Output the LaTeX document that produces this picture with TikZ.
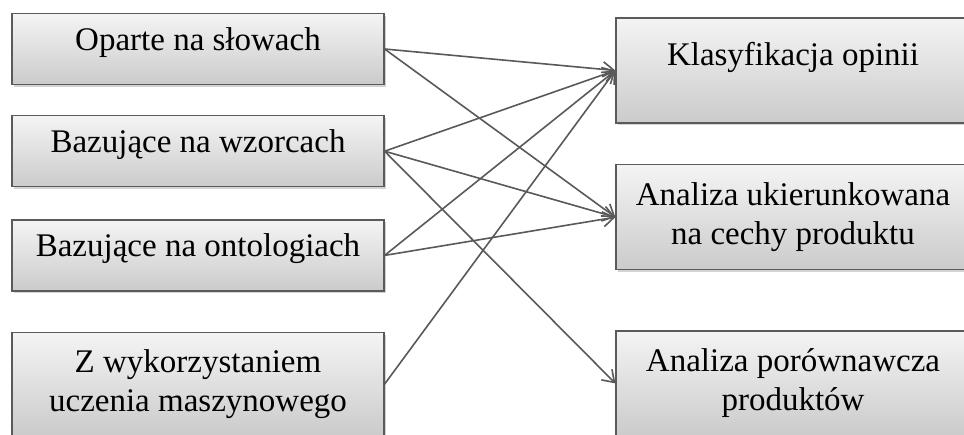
\documentclass[tikz,border=0pt]{standalone}
\usepackage{fontspec}
\setmainfont{Liberation Serif}
\usepackage{tikz}
\usetikzlibrary{shapes,arrows.meta,positioning,calc,shadows}
\definecolor{boxBorder}{HTML}{5A5A5A}
\definecolor{boxTop}{HTML}{F4F4F4}
\definecolor{boxBottom}{HTML}{CBCBCB}
\definecolor{lineGrey}{HTML}{595959}

\begin{document}
\begin{tikzpicture}[
            method/.style={
                    rectangle,
                    draw=boxBorder,
                    line width=0.6pt,
                    top color=boxTop,
                    bottom color=boxBottom,
                    drop shadow={shadow xshift=0.8pt, shadow yshift=-1.2pt, opacity=0.35},
                    minimum width=186pt,
                    minimum height=35.5pt,
                    align=center,
                    font=\fontsize{16.5}{19.5}\selectfont
                },
            oneline/.style={
                    text height=11pt,
                    text depth=10pt
                },
            task/.style={
                    method,
                    minimum width=177pt,
                    minimum height=52.5pt
                },
            arrow/.style={
                    -{Straight Barb[length=5.5pt,width=7.5pt]},
                    draw=lineGrey,
                    line width=0.8pt
                }
        ]

        \path[use as bounding box, clip] (0,0) rectangle (482pt,-217pt);

        % Metody
        \node[method, oneline] (words) at (99pt,-24.5pt) {Oparte na słowach};
        \node[method, oneline, below=15pt of words] (patterns) {Bazujące na wzorcach};
        \node[method, oneline, below=16pt of patterns] (ontology) {Bazujące na ontologiach};
        \node[method, below=20.25pt of ontology, minimum height=51.5pt] (learning) {Z wykorzystaniem\\uczenia maszynowego};

        % Zadania
        \node[task, oneline, text depth=16.5pt] (classify) at (396.5pt,-35.25pt) {Klasyfikacja opinii};
        \node[task, below=20.25pt of classify] (features) {Analiza ukierunkowana\\na cechy produktu};
        \node[task, below=30pt of features] (compare) {Analiza porównawcza\\produktów};

        % Relacje
        \draw[arrow] (words.east) -- (classify.west);
        \draw[arrow] (words.east) -- (features.west);

        \draw[arrow] (patterns.east) -- (classify.west);
        \draw[arrow] (patterns.east) -- (features.west);
        \draw[arrow] (patterns.east) -- (compare.west);

        \draw[arrow] (ontology.east) -- (classify.west);
        \draw[arrow] (ontology.east) -- (features.west);

        \draw[arrow] (learning.east) -- (classify.west);

    \end{tikzpicture}
\end{document}
